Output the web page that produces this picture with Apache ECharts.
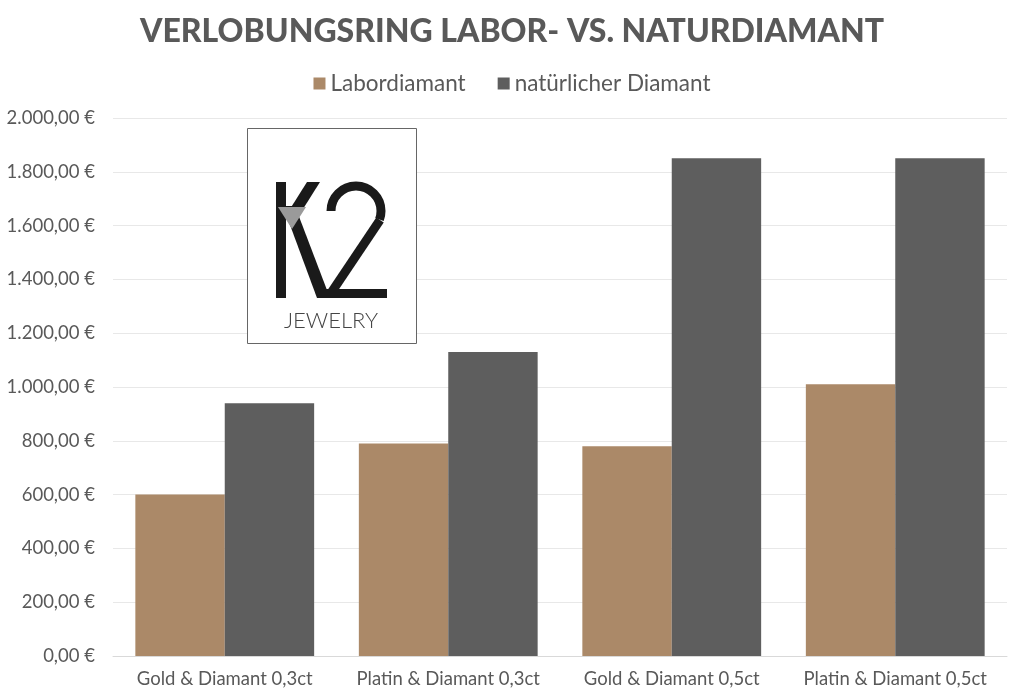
<!DOCTYPE html>
<html>
<head>
<meta charset="utf-8">
<script src="https://cdn.jsdelivr.net/npm/echarts@6/dist/echarts.min.js"></script>
<style>html,body{margin:0;padding:0;background:#fff}#c{width:1024px;height:700px}</style>
</head>
<body>
<div id="c"></div>
<script>
var categories = ['Gold & Diamant 0,3ct', 'Platin & Diamant 0,3ct', 'Gold & Diamant 0,5ct', 'Platin & Diamant 0,5ct'];
var seriesNames = ['Labordiamant', 'natürlicher Diamant'];
var laborValues = [600, 790, 780, 1010];
var naturValues = [940, 1130, 1850, 1850];
var yTicks = [0, 200, 400, 600, 800, 1000, 1200, 1400, 1600, 1800, 2000];

function fmtEuro(v) {
  var s = Math.round(v).toString();
  s = s.replace(/\B(?=(\d{3})+(?!\d))/g, '.');
  return s + ',00 \u20AC';
}

var FONT = 'Lato';
var TXT = '#595959';
var chart = echarts.init(document.getElementById('c'));
var option = {
  animation: false,
  backgroundColor: '#ffffff',
  title: {
    text: 'VERLOBUNGSRING LABOR- VS. NATURDIAMANT',
    left: 'center',
    top: 11,
    textStyle: { fontFamily: FONT, fontWeight: 900, fontSize: 32, color: TXT }
  },
  legend: {
    data: seriesNames,
    top: 67,
    left: 'center',
    icon: 'rect',
    itemWidth: 12,
    itemHeight: 12,
    itemGap: 32,
    textStyle: { fontFamily: FONT, fontSize: 22.5, color: TXT }
  },
  grid: { left: 113, right: 17, top: 118, bottom: 44, containLabel: false },
  xAxis: {
    type: 'category',
    data: categories,
    axisTick: { show: false },
    axisLine: { lineStyle: { color: '#d9d9d9', width: 1 } },
    axisLabel: { fontFamily: FONT, fontSize: 18.5, color: TXT, margin: 14, interval: 0, hideOverlap: false }
  },
  yAxis: {
    type: 'value',
    min: yTicks[0],
    max: yTicks[yTicks.length - 1],
    interval: 200,
    axisLine: { show: false },
    axisTick: { show: false },
    splitLine: { lineStyle: { color: '#e8e8e8', width: 1 } },
    axisLabel: { fontFamily: FONT, fontSize: 18.5, color: TXT, margin: 18, formatter: fmtEuro }
  },
  series: [
    {
      name: seriesNames[0], type: 'bar', data: laborValues,
      barGap: '0%', barCategoryGap: '20%',
      itemStyle: { color: '#AB8968' }
    },
    {
      name: seriesNames[1], type: 'bar', data: naturValues,
      barGap: '0%', barCategoryGap: '20%',
      itemStyle: { color: '#5E5E5E' }
    }
  ],
  graphic: [
    { type: 'rect', z: 100, shape: { x: 247.5, y: 128.5, width: 169, height: 215 }, style: { fill: '#ffffff', stroke: '#666666', lineWidth: 1 } },
    { type: 'rect', z: 101, shape: { x: 276, y: 182, width: 10, height: 116 }, style: { fill: '#1a1a1a' } },
    { type: 'polygon', z: 101, shape: { points: [[307, 182], [320, 182], [303, 209], [290, 209]] }, style: { fill: '#1a1a1a' } },
    { type: 'polygon', z: 101, shape: { points: [[283, 206], [295, 206], [330, 298], [317, 298]] }, style: { fill: '#1a1a1a' } },
    { type: 'polygon', z: 102, shape: { points: [[278, 207], [306, 207], [292, 229]] }, style: { fill: '#9a9a9a' } },
    { type: 'arc', z: 101, shape: { cx: 356, cy: 211, r: 25, startAngle: Math.PI, endAngle: Math.PI * 2 + 0.35, clockwise: true }, style: { stroke: '#1a1a1a', lineWidth: 9, fill: 'none' } },
    { type: 'line', z: 101, shape: { x1: 380, y1: 220, x2: 331, y2: 293 }, style: { stroke: '#1a1a1a', lineWidth: 9 } },
    { type: 'rect', z: 101, shape: { x: 325, y: 289, width: 62, height: 9 }, style: { fill: '#1a1a1a' } },
    { type: 'text', z: 101, style: { text: 'JEWELRY', x: 331, y: 321, fill: '#444444', fontFamily: 'Lato', fontWeight: 300, fontSize: 22, textAlign: 'center', textVerticalAlign: 'middle' } }
  ]
};
chart.setOption(option);
</script>
</body>
</html>
